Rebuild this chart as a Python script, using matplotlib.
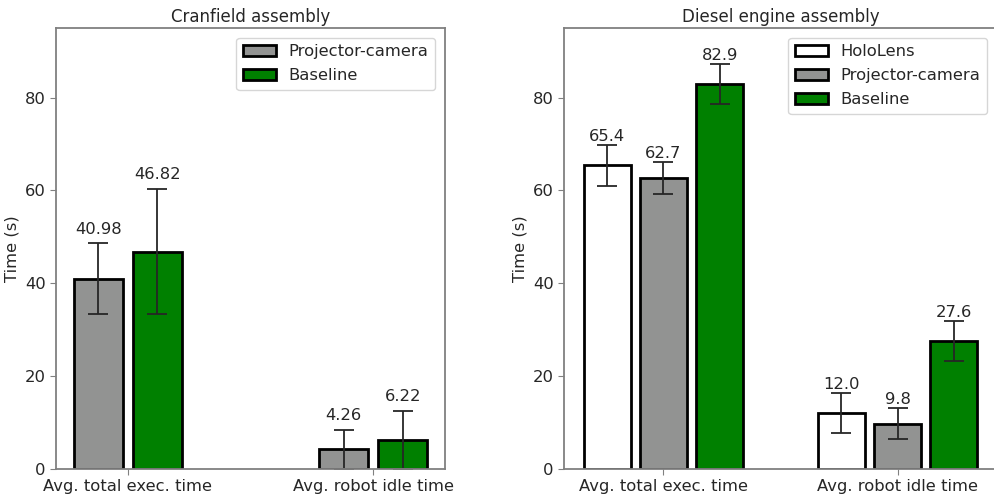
import matplotlib
matplotlib.use("Agg")
from matplotlib import pyplot as plt
import numpy as np

categories = ["Avg. total exec. time", "Avg. robot idle time"]

# Cranfield assembly
cran_proj = [40.98, 4.26]
cran_proj_err = [7.6, 4.2]
cran_base = [46.82, 6.22]
cran_base_err = [13.5, 6.2]

# Diesel engine assembly
dies_holo = [65.4, 12.0]
dies_holo_err = [4.4, 4.3]
dies_proj = [62.7, 9.8]
dies_proj_err = [3.5, 3.4]
dies_base = [82.9, 27.6]
dies_base_err = [4.3, 4.3]

GRAY = "#929392"
GREEN = "green"
SPINE = "#808080"
TXT = "#262626"
FS = 11.8

plt.rcParams["font.family"] = "DejaVu Sans"
plt.rcParams["text.color"] = TXT
plt.rcParams["axes.labelcolor"] = TXT
plt.rcParams["xtick.color"] = TXT
plt.rcParams["ytick.color"] = TXT

W, H = 995, 496
fig = plt.figure(figsize=(W / 100, H / 100), dpi=100)
ax1 = fig.add_axes([56 / W, 27 / H, 389 / W, 441 / H])
ax2 = fig.add_axes([564 / W, 27 / H, 433 / W, 441 / H])

x = np.arange(len(categories))
bw = 0.2
step = 0.24
ekw = dict(ecolor=TXT, capsize=7, error_kw=dict(elinewidth=1.3, capthick=1.3))


def draw(ax, series, title, fmt, gap):
    n = len(series)
    for i, (vals, errs, color, label) in enumerate(series):
        pos = x + (i - (n - 1) / 2) * step
        ax.bar(pos, vals, bw, yerr=errs, color=color, edgecolor="black",
               linewidth=2, label=label, **ekw)
        for p, v, e in zip(pos, vals, errs):
            ax.text(p, v + e + gap, fmt % v, ha="center", va="bottom", fontsize=FS)
    ax.set_ylim(0, 95)
    ax.set_yticks([0, 20, 40, 60, 80])
    ax.set_xticks(x)
    ax.set_xticklabels(categories, fontsize=FS)
    ax.tick_params(axis="y", labelsize=FS)
    ax.set_ylabel("Time (s)", fontsize=FS)
    ax.set_title(title, fontsize=12, pad=4)
    for s in ax.spines.values():
        s.set_color(SPINE)
        s.set_linewidth(1.3)
    ax.tick_params(color=SPINE, length=4)
    ax.legend(loc="upper right", fontsize=FS, framealpha=0.8,
              labelspacing=0.55, borderaxespad=0.6)


draw(ax1, [(cran_proj, cran_proj_err, GRAY, "Projector-camera"),
           (cran_base, cran_base_err, GREEN, "Baseline")],
     "Cranfield assembly", "%.2f", 1.5)
draw(ax2, [(dies_holo, dies_holo_err, "white", "HoloLens"),
           (dies_proj, dies_proj_err, GRAY, "Projector-camera"),
           (dies_base, dies_base_err, GREEN, "Baseline")],
     "Diesel engine assembly", "%.1f", 0.2)

fig.savefig("out.png", dpi=100)
